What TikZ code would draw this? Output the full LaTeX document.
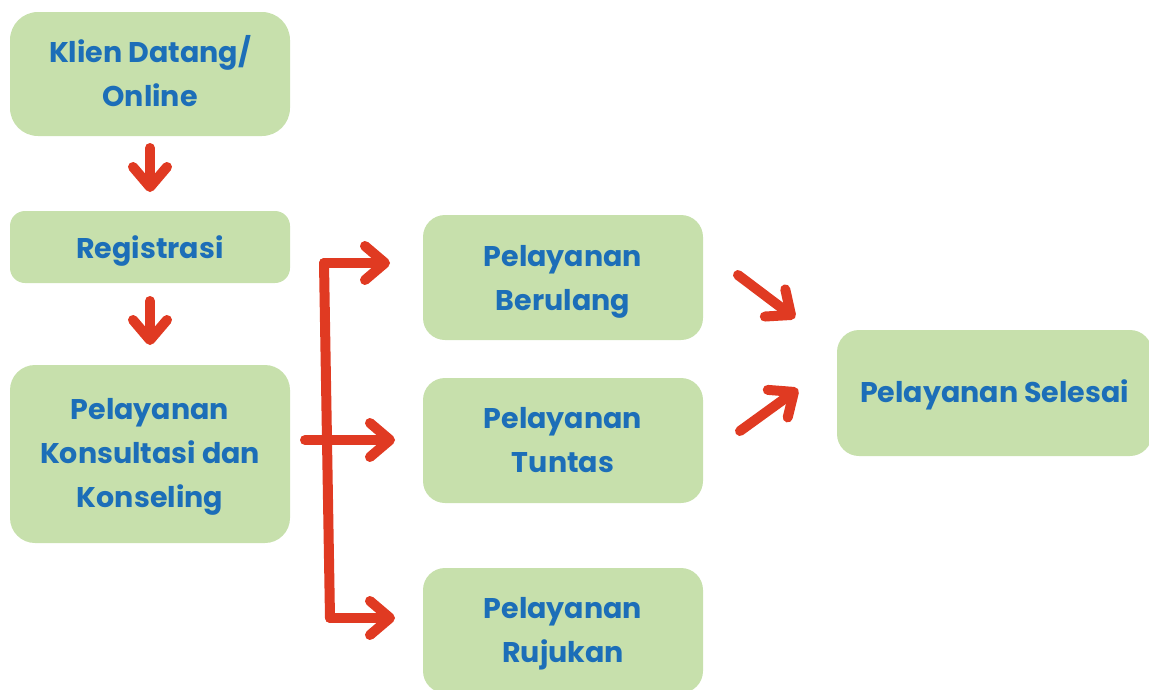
\documentclass[tikz,border=0pt]{standalone}
\usepackage{fontspec}
\setmainfont{Poppins}
\usetikzlibrary{arrows.meta}
\definecolor{boxgreen}{HTML}{C7E0AC}
\definecolor{txtblue}{HTML}{1C6EB8}
\definecolor{arrred}{HTML}{E03A22}
\newcommand{\dnl}[2]{\raisebox{-#1}[\height][\depth]{#2}}
\begin{document}
\begin{tikzpicture}[x=1pt,y=-1pt,
  box/.style={fill=boxgreen, text=txtblue, align=center, inner sep=0pt,
    font=\fontsize{28.5}{44}\selectfont\bfseries, rounded corners=22pt},
  link/.style={draw=arrred, line width=10pt, line cap=round, line join=round},
  conn/.style={link, -{Straight Barb[length=20pt,width=34pt,round]}}]
\useasboundingbox (0,0) rectangle (1149,689);
\clip (0,0) rectangle (1149,689);
\node[box, minimum width=280pt, minimum height=124pt, rounded corners=28pt] (k) at (150,74) {\dnl{-3pt}{Klien Datang/}\\\dnl{-3pt}{Online}};
\node[box, minimum width=280pt, minimum height=72pt, rounded corners=15pt] (r) at (150,247) {\dnl{4pt}{Registrasi}};
\node[box, minimum width=280pt, minimum height=178pt, rounded corners=25pt] (c) at (150,454) {\dnl{3pt}{Pelayanan}\\\dnl{3pt}{Konsultasi dan}\\\dnl{3pt}{Konseling}};
\node[box, minimum width=280pt, minimum height=125pt] (b) at (563,277.5) {\dnl{4pt}{Pelayanan}\\\dnl{4pt}{Berulang}};
\node[box, minimum width=280pt, minimum height=125pt] (t) at (563,440.5) {Pelayanan\\Tuntas};
\node[box, minimum width=280pt, minimum height=125pt] (j) at (563,630.5) {\dnl{3pt}{Pelayanan}\\\dnl{3pt}{Rujukan}};
\node[box, minimum width=315pt, minimum height=126pt] (s) at (994.5,393) {\dnl{2pt}{Pelayanan Selesai}};
% connector end points
\coordinate (k1) at (150,148);
\coordinate (r1) at (150,192);
\coordinate (r2) at (150,301);
\coordinate (c1) at (150,345);
\coordinate (bt) at (324,263);
\coordinate (bb) at (330,618);
\coordinate (cm) at (305,440);
\coordinate (bi) at (390,263);
\coordinate (ti) at (395,440);
\coordinate (ji) at (395,618);
\coordinate (bo) at (738,275);
\coordinate (si1) at (795,318);
\coordinate (to) at (740,431);
\coordinate (si2) at (798,389);
\draw[conn] (k1) -- (r1);
\draw[conn] (r2) -- (c1);
\draw[link] (bt) -- (bb);
\draw[conn] (bt) -- (bi);
\draw[conn] (cm) -- (ti);
\draw[conn] (bb) -- (ji);
\draw[conn] (bo) -- (si1);
\draw[conn] (to) -- (si2);
\end{tikzpicture}
\end{document}
